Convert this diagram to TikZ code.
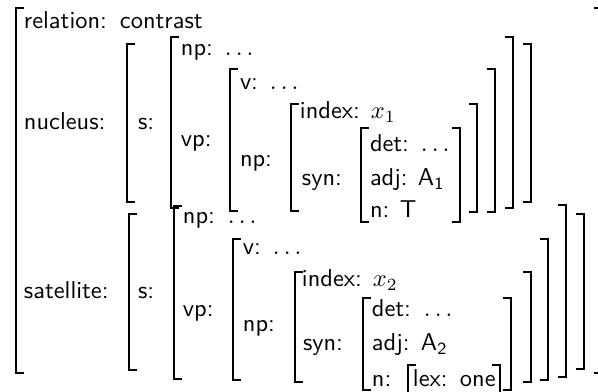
\documentclass[tikz,border=0pt]{standalone}
\newcommand\avmL[3]{\draw[brk] (#1+8,#2) -- (#1,#2) -- (#1,#3) -- (#1+8,#3);}
\newcommand\avmR[3]{\draw[brk] (#1-8,#2) -- (#1,#2) -- (#1,#3) -- (#1-8,#3);}
\tikzset{
  t/.style={anchor=base west, inner sep=0pt, outer sep=0pt, font=\sffamily},
  brk/.style={line width=0.8pt, line join=miter}
}
\begin{document}
\begin{tikzpicture}[x=0.41pt,y=-0.41pt]
\clip (0,0) rectangle (598,392);
\fill[white] (0,0) rectangle (598,392);
% outer
\avmL{16}{8}{373}
\avmR{602}{8}{373}
\node[t] (rel) at (24,29) {relation:};
\node[t] (relv) at (120,29) {contrast};
% ---------- nucleus
\node[t] (nuc) at (24,130) {nucleus:};
\avmL{127}{44}{202}\avmR{531}{44}{202}
\node[t] (ns) at (138,130) {s:};
\avmL{171}{37}{208}\avmR{513}{37}{208}
\node[t] (nnp) at (181,56) {np:};
\node[t] (nnpv) at (225,56) {$\ldots$};
\node[t] (nvp) at (181,147) {vp:};
\avmL{230}{69}{211}\avmR{495}{69}{212}
\node[t] (nv) at (240,90) {v:};
\node[t] (nvv) at (270,90) {$\ldots$};
\node[t] (nnp2) at (240,167) {np:};
\avmL{291}{104}{211}\avmR{477}{104}{212}
\node[t] (nidx) at (300,119) {index:};
\node[t] (nidxv) at (371,119) {$x_1$};
\node[t] (nsyn) at (302,186) {syn:};
\avmL{361}{128}{222}\avmR{460}{128}{222}
\node[t] (ndet) at (370,152) {det:};
\node[t] (ndetv) at (421,152) {$\ldots$};
\node[t] (nadj) at (370,186) {adj:};
\node[t] (nadjv) at (418,186) {A\textsubscript{1}};
\node[t] (nn) at (370,218) {n:};
\node[t] (nnv) at (400,218) {T};
% ---------- satellite
\node[t] (sat) at (24,299) {satellite:};
\avmL{129}{214}{370}\avmR{584}{214}{369}
\node[t] (ss) at (138,299) {s:};
\avmL{174}{206}{379}\avmR{566}{205}{377}
\node[t] (snp) at (183,224) {np:};
\node[t] (snpv) at (228,224) {$\ldots$};
\node[t] (svp) at (183,317) {vp:};
\avmL{233}{239}{380}\avmR{548}{239}{380}
\node[t] (sv) at (243,255) {v:};
\node[t] (svv) at (273,255) {$\ldots$};
\node[t] (snp2) at (243,332) {np:};
\avmL{295}{272}{382}\avmR{531}{272}{382}
\node[t] (sidx) at (302,287) {index:};
\node[t] (sidxv) at (373,287) {$x_2$};
\node[t] (ssyn) at (303,351) {syn:};
\avmL{363}{298}{390}\avmR{511}{298}{390}
\node[t] (sdet) at (372,317) {det:};
\node[t] (sdetv) at (424,317) {$\ldots$};
\node[t] (sadj) at (372,351) {adj:};
\node[t] (sadjv) at (421,351) {A\textsubscript{2}};
\node[t] (sn) at (372,387) {n:};
\avmL{408}{365}{395}\avmR{500}{365}{395}
\node[t] (slex) at (413,387) {lex:};
\node[t] (slexv) at (460,387) {one};
\end{tikzpicture}
\end{document}
